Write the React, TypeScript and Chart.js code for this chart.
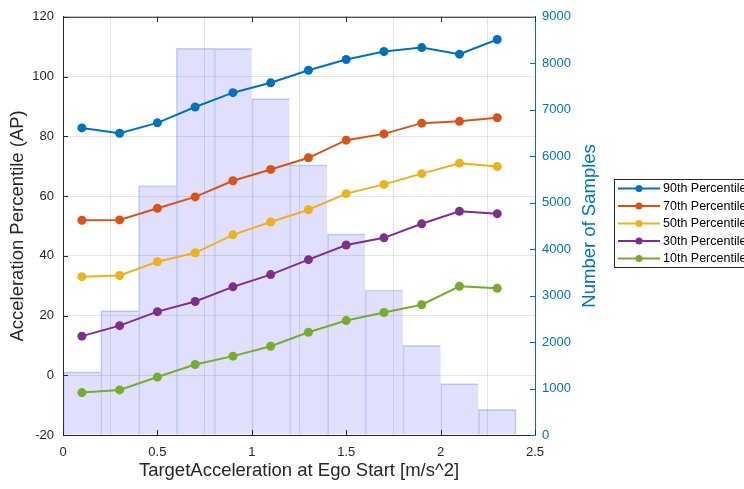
import React, { useEffect, useRef } from "react";
import { Chart, registerables } from "chart.js";

Chart.register(...registerables);

const binCenters = [0.1, 0.3, 0.5, 0.7, 0.9, 1.1, 1.3, 1.5, 1.7, 1.9, 2.1, 2.3];
const sampleCounts = [1360, 2675, 5370, 8325, 8320, 7240, 5815, 4330, 3120, 1930, 1105, 550];
const p90 = [82.8, 81.0, 84.5, 89.8, 94.6, 97.9, 102.1, 105.7, 108.4, 109.7, 107.5, 112.4];
const p70 = [51.9, 52.0, 55.9, 59.7, 65.1, 68.9, 72.8, 78.7, 80.8, 84.4, 85.0, 86.2];
const p50 = [33.0, 33.4, 38.0, 41.0, 47.0, 51.3, 55.4, 60.8, 63.9, 67.5, 71.0, 69.9];
const p30 = [13.1, 16.6, 21.3, 24.7, 29.6, 33.7, 38.7, 43.6, 46.0, 50.7, 54.9, 54.1];
const p10 = [-5.8, -4.9, -0.6, 3.6, 6.4, 9.7, 14.4, 18.3, 21.0, 23.6, 29.8, 29.1];
const seriesNames = ["90th Percentile", "70th Percentile", "50th Percentile", "30th Percentile", "10th Percentile"];
const seriesColors = ["#0072BD", "#D95319", "#EDB120", "#7E2F8E", "#77AC30"];
const xTitle = "TargetAcceleration at Ego Start [m/s^2]";
const yTitle = "Acceleration Percentile (AP)";
const y1Title = "Number of Samples";

const FONT = "'Liberation Sans', Arial, Helvetica, sans-serif";

export default function App() {
  const ref = useRef<HTMLCanvasElement | null>(null);
  useEffect(() => {
    if (!ref.current) return;
    const seriesData = [p90, p70, p50, p30, p10];
    const lineSets = seriesData.map((arr, i) => ({
      type: "line" as const,
      label: seriesNames[i],
      data: binCenters.map((x, j) => ({ x, y: arr[j] })),
      borderColor: seriesColors[i],
      backgroundColor: seriesColors[i],
      borderWidth: 2,
      pointRadius: 4.5,
      pointBorderWidth: 0,
      yAxisID: "y",
      order: 0,
    }));
    const lastBar = binCenters.length - 1;
    const frame = {
      id: "frame",
      afterDraw(chart: any) {
        const { ctx, chartArea } = chart;
        const { left, right, top, bottom } = chartArea;
        ctx.save();
        ctx.lineWidth = 1;
        ctx.strokeStyle = "#262626";
        ctx.beginPath();
        ctx.moveTo(left, top + 0.5);
        ctx.lineTo(right, top + 0.5);
        ctx.stroke();
        // inward ticks
        const xs = chart.scales.x;
        const ys = chart.scales.y;
        const y1 = chart.scales.y1;
        ctx.beginPath();
        xs.ticks.forEach((t: any) => {
          const px = Math.round(xs.getPixelForValue(t.value)) + 0.5;
          ctx.moveTo(px, bottom);
          ctx.lineTo(px, bottom - 5);
          ctx.moveTo(px, top);
          ctx.lineTo(px, top + 5);
        });
        ys.ticks.forEach((t: any) => {
          const py = Math.round(ys.getPixelForValue(t.value)) + 0.5;
          ctx.moveTo(left, py);
          ctx.lineTo(left + 5, py);
        });
        ctx.stroke();
        ctx.strokeStyle = "#0072BD";
        ctx.beginPath();
        y1.ticks.forEach((t: any) => {
          const py = Math.round(y1.getPixelForValue(t.value)) + 0.5;
          ctx.moveTo(right, py);
          ctx.lineTo(right - 5, py);
        });
        ctx.stroke();
        // right axis title, rotated like MATLAB (reads bottom to top)
        ctx.save();
        ctx.translate(590, (top + bottom) / 2);
        ctx.rotate(-Math.PI / 2);
        ctx.fillStyle = "#0072BD";
        ctx.font = `18.5px ${FONT}`;
        ctx.textAlign = "center";
        ctx.textBaseline = "middle";
        ctx.fillText(y1Title, 0, 0);
        ctx.restore();
        // legend
        const lx = 614, ly = 179, lw = 200, lh = 88;
        ctx.fillStyle = "#fff";
        ctx.fillRect(lx, ly, lw, lh);
        ctx.strokeStyle = "#262626";
        ctx.lineWidth = 1;
        ctx.strokeRect(lx + 0.5, ly + 0.5, lw, lh);
        ctx.font = `12.5px ${FONT}`;
        ctx.textBaseline = "middle";
        ctx.textAlign = "left";
        seriesNames.forEach((name, i) => {
          const cy = 188.5 + i * 17.5;
          ctx.strokeStyle = seriesColors[i];
          ctx.lineWidth = 2;
          ctx.beginPath();
          ctx.moveTo(618, cy);
          ctx.lineTo(660, cy);
          ctx.stroke();
          ctx.fillStyle = seriesColors[i];
          ctx.beginPath();
          ctx.arc(639, cy, 3.5, 0, Math.PI * 2);
          ctx.fill();
          ctx.fillStyle = "#000";
          ctx.fillText(name, 663, cy + 0.5);
        });
        ctx.restore();
      },
    };
    const chart = new Chart(ref.current, {
      data: {
        datasets: [
          ...lineSets,
          {
            type: "bar" as const,
            label: "Samples",
            data: binCenters.map((x, j) => ({ x, y: sampleCounts[j] })),
            backgroundColor: "rgba(0,0,235,0.12)",
            borderColor: "rgba(40,90,210,0.25)",
            borderWidth: (c: any) => ({ top: 1, left: 1, bottom: 0, right: c.dataIndex === lastBar ? 1 : 0 }),
            borderSkipped: false,
            barPercentage: 1,
            categoryPercentage: 1,
            grouped: false,
            yAxisID: "y1",
            order: 10,
          } as any,
        ],
      },
      options: {
        animation: false,
        responsive: false,
        layout: { padding: { top: 11, right: 139, left: 0, bottom: 0 } },
        plugins: { legend: { display: false }, tooltip: { enabled: false } },
        scales: {
          x: {
            type: "linear",
            min: 0,
            max: 2.5,
            offset: false,
            ticks: {
              stepSize: 0.5,
              padding: 10,
              color: "#262626",
              font: { size: 13, family: FONT },
              callback: (v: any) => String(Math.round(Number(v) * 10) / 10),
            },
            grid: { color: "rgba(0,0,0,0.1)", drawTicks: false },
            border: { color: "#262626" },
            title: { display: true, text: xTitle, color: "#262626", font: { size: 18.5, family: FONT }, padding: { top: 0, bottom: 7 } },
            afterFit: (s: any) => { s.height = 54; },
          },
          y: {
            position: "left",
            min: -20,
            max: 120,
            ticks: { stepSize: 20, padding: 9, color: "#262626", font: { size: 13, family: FONT } },
            grid: { color: "rgba(0,0,0,0.1)", drawTicks: false },
            border: { color: "#262626" },
            title: { display: true, text: yTitle, color: "#262626", font: { size: 18.5, family: FONT }, padding: { top: 7, bottom: 0 } },
            afterFit: (s: any) => { s.width = 63; },
          },
          y1: {
            position: "right",
            min: 0,
            max: 9000,
            ticks: {
              stepSize: 1000,
              padding: 7,
              color: "#0072BD",
              font: { size: 13, family: FONT },
              callback: (v: any) => String(v),
            },
            grid: { drawOnChartArea: false, drawTicks: false },
            border: { color: "#0072BD" },
            title: { display: false },
            afterFit: (s: any) => { s.width = 70; },
          },
        },
      },
      plugins: [frame],
    } as any);
    return () => chart.destroy();
  }, []);
  return (
    <div style={{ position: "fixed", left: 0, top: 0, width: 744, height: 489, background: "#fff" }}>
      <canvas ref={ref} width={744} height={489} style={{ display: "block" }} />
    </div>
  );
}
